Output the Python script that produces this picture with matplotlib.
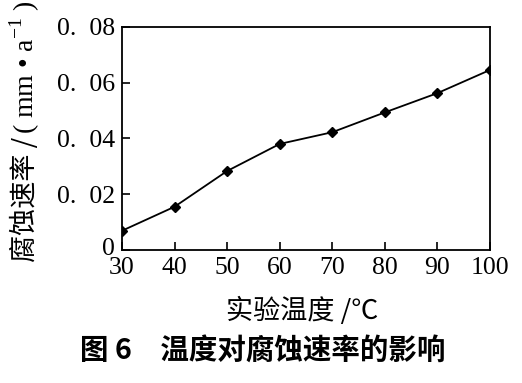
import matplotlib
matplotlib.use("Agg")
import matplotlib.pyplot as plt
import matplotlib.transforms as mtransforms

temps = [30, 40, 50, 60, 70, 80, 90, 100]
rates = [0.0069, 0.0155, 0.0283, 0.0380, 0.0422, 0.0493, 0.0562, 0.0645]
yticks = [0, 0.02, 0.04, 0.06, 0.08]
ytick_labels = ["0", "0.  02", "0.  04", "0.  06", "0.  08"]
xticks = [30, 40, 50, 60, 70, 80, 90, 100]

plt.rcParams['font.family'] = ['Liberation Serif', 'Noto Sans CJK SC', 'DejaVu Sans']
plt.rcParams['mathtext.fontset'] = 'custom'
plt.rcParams['mathtext.rm'] = 'Liberation Serif'

W, H = 522, 383
fig = plt.figure(figsize=(W/100, H/100), dpi=100)
ax = fig.add_axes([122/W, 1-250/H, (490-122)/W, (250-26.7)/H])

ax.plot(temps, rates, color='black', lw=1.3, marker='D', markersize=5.5)
ax.set_xlim(30, 100)
ax.set_ylim(0, 0.08)
ax.set_xticks(xticks)
ax.set_xticklabels([str(t) for t in xticks])
ax.set_yticks(yticks)
ax.set_yticklabels(ytick_labels)
ax.tick_params(direction='in', length=6, width=1.2, labelsize=18.5, pad=5,
               top=False, right=False)
for s in ax.spines.values():
    s.set_linewidth(1.3)

# lift the "0" label slightly, as in the reference
lab0 = ax.get_yticklabels()[0]
lab0.set_transform(lab0.get_transform() +
                   mtransforms.ScaledTranslation(0, 4/100, fig.dpi_scale_trans))

cjk_first = ['Noto Sans CJK SC', 'Liberation Serif']
ax.set_xlabel("实验温度 /℃", family=cjk_first, fontsize=19.5)
ax.xaxis.set_label_coords(0.49, (250-297)/223)

# y label in two pieces: Chinese part + serif unit with superscript
x_yl = 25/W
t1 = fig.text(x_yl, 1-262/H, "腐蚀速率 /", family=cjk_first, fontsize=19.5,
              rotation=90, rotation_mode='anchor', ha='left', va='center')
fig.canvas.draw()
bb = t1.get_window_extent()
t2 = fig.text(x_yl, bb.y1/fig.bbox.height + 3/H, "( mm • a$^{-1}$ )", fontsize=20,
              rotation=90, rotation_mode='anchor', ha='left', va='center')

fig.text(263/W, 1-352/H, "图 6　温度对腐蚀速率的影响", family=['Noto Sans CJK SC', 'DejaVu Sans'],
         fontsize=20.5, fontweight='bold', ha='center', va='center')

fig.savefig("out.png", dpi=100)
